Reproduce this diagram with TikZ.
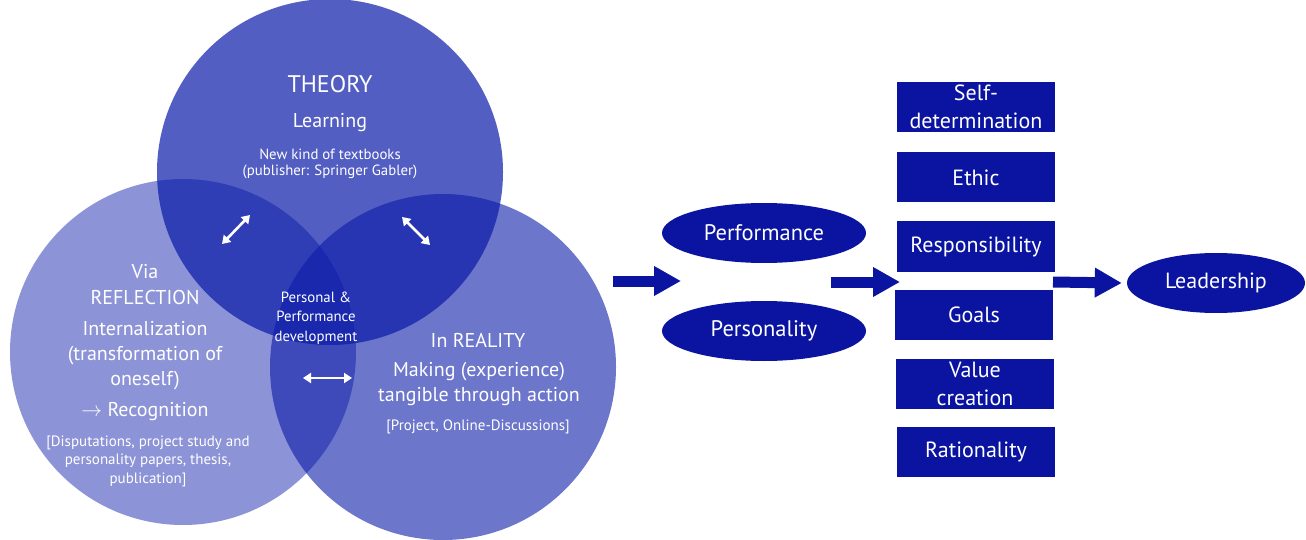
\documentclass[tikz,border=0pt]{standalone}
\usepackage{fontspec}
\setmainfont{PT Sans}
\usepackage{tikz}
\usetikzlibrary{arrows.meta, shapes.geometric}
\definecolor{venn_blue}{HTML}{0A1AA8}
\definecolor{box_blue}{HTML}{0A14A0}

\tikzset{
  venncircle/.style={circle, fill=venn_blue, minimum size=346pt, inner sep=0pt},
  bigtext/.style={text=white, align=center, font=\fontsize{20}{25}\selectfont},
  smalltext/.style={text=white, align=center, font=\fontsize{15}{18.5}\selectfont},
  blockbox/.style={fill=box_blue, minimum width=158pt, minimum height=50pt, inner sep=0pt},
  boxlabel/.style={text=white, align=center, font=\fontsize{22}{28}\selectfont},
  oval/.style={ellipse, fill=box_blue, minimum width=204pt, minimum height=60pt, inner sep=0pt,
    text=white, font=\fontsize{22.5}{26}\selectfont},
  blockarrow/.style={box_blue, line width=11pt, -{Triangle[length=27pt, width=28pt]}},
  twoway/.style={white, line width=2.6pt, {Triangle[length=8pt, width=10pt]}-{Triangle[length=8pt, width=10pt]}},
}

\begin{document}
\begin{tikzpicture}[x=1pt, y=-1pt]
  \useasboundingbox (0,0) rectangle (1306,540);

  % the three circles
  \node[venncircle, fill opacity=0.47] (reflection) at (183,352) {};
  \node[venncircle, fill opacity=0.6] (reality) at (443,367) {};
  \node[venncircle, fill opacity=0.7] (theory) at (330,172) {};

  % theory
  \node[text=white, font=\fontsize{24}{28}\selectfont] (theorytitle) at (330,84) {THEORY};
  \node[bigtext] (learning) at (330,123) {Learning};
  \node[smalltext, font=\fontsize{14.8}{16.5}\selectfont] (books) at (330,164)
    {New kind of textbooks\\(publisher: Springer Gabler)};

  % reflection
  \node[bigtext, font=\fontsize{20}{26}\selectfont] (via) at (145,285) {Via\\REFLECTION};
  \node[bigtext] (internal) at (145,356) {Internalization\\(transformation of\\oneself)};
  \node[bigtext] (recog) at (145,412) {$\rightarrow$ Recognition};
  \node[smalltext] (disput) at (148,461)
    {[Disputations, project study and\\personality papers, thesis,\\publication]};

  % reality
  \node[bigtext] (inreality) at (478,340) {In REALITY};
  \node[bigtext] (making) at (479,384) {Making (experience)\\tangible through action};
  \node[smalltext] (project) at (478,427) {[Project, Online-Discussions]};

  % centre
  \node[smalltext, font=\fontsize{14.8}{19.5}\selectfont] (centre) at (316,318)
    {Personal \&\\Performance\\development};

  \coordinate (tl1) at (222,244);
  \coordinate (tl2) at (250,215);
  \coordinate (tr1) at (402,217);
  \coordinate (tr2) at (430,245);
  \coordinate (bm1) at (303,378);
  \coordinate (bm2) at (352,378);
  \draw[twoway] (tl1) -- (tl2);
  \draw[twoway] (tr1) -- (tr2);
  \draw[twoway] (bm1) -- (bm2);

  % right part
  \node[oval] (performance) at (764,233) {Performance};
  \node[oval] (personality) at (764,331) {Personality};

  \node[blockbox] (selfdet) at (976,107) {};
  \node[blockbox] (ethic) at (976,177.5) {};
  \node[blockbox] (resp) at (976,246.5) {};
  \node[blockbox] (goals) at (974,314.5) {};
  \node[blockbox] (value) at (975,383.5) {};
  \node[blockbox] (ration) at (976,452) {};
  \node[boxlabel] at (selfdet) {Self-\\determination};
  \node[boxlabel] at (ethic) {Ethic};
  \node[boxlabel] at (resp) {Responsibility};
  \node[boxlabel] at (goals) {Goals};
  \node[boxlabel] at (value) {Value\\creation};
  \node[boxlabel] at (ration) {Rationality};

  \node[oval, minimum width=178pt, font=\fontsize{22}{26}\selectfont] (leader) at (1216,283) {Leadership};

  \coordinate (a1) at (613,281);
  \coordinate (a1end) at (681,281);
  \coordinate (a2) at (831,282);
  \coordinate (a2end) at (900,282);
  \coordinate (a3) at (1053,282);
  \draw[blockarrow] (a1) -- (a1end);
  \draw[blockarrow] (a2) -- (a2end);
  \draw[blockarrow] (a3) -- ([xshift=-5pt]leader.west);
\end{tikzpicture}
\end{document}
